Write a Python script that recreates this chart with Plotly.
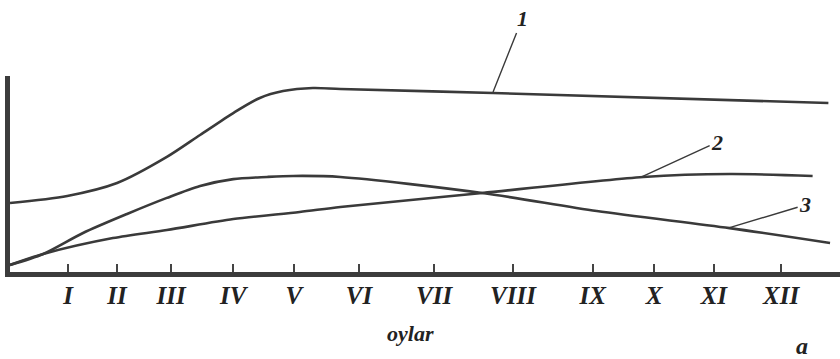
import plotly.graph_objects as go

# x: relative time scale 0-100 across the axis; y: relative value 0-100
month_labels = ["I", "II", "III", "IV", "V", "VI", "VII", "VIII", "IX", "X", "XI", "XII"]
month_pos = [7.0, 12.9, 19.4, 26.9, 34.2, 42.05, 51.1, 60.6, 70.2, 77.6, 84.8, 92.9]

c1_x = [0, 6.9, 12.9, 18.9, 22.9, 26.9, 30.1, 32.9, 36.5, 39.8, 58.2, 98.6]
c1_y = [35.2, 38.8, 45.4, 58.7, 69.9, 81.1, 88.8, 92.3, 93.9, 93.4, 91.3, 86.2]

c2_x = [0, 4.0, 12.4, 18.9, 26.9, 34.9, 39.8, 56.9, 76.3, 86.7, 96.7]
c2_y = [3.6, 9.2, 17.3, 21.4, 27.0, 30.6, 33.2, 40.3, 48.5, 50.0, 49.0]

c3_x = [0, 4.0, 8.8, 14.1, 18.9, 22.9, 26.9, 31.0, 34.1, 39.8, 56.9, 70.7, 86.7, 98.8]
c3_y = [3.6, 9.2, 19.9, 29.6, 37.8, 43.9, 47.4, 48.5, 49.0, 48.5, 40.3, 31.1, 22.4, 14.8]

curve_labels = ["1", "2", "3"]
leader_pts = [(58.2, 91.8), (76.1, 48.5), (86.5, 22.4)]
label_pts = [(61.7, 129.1), (85.2, 66.3), (95.8, 34.2)]

LINE = "#3a3a3a"
TXT = "#222222"
font_bi = dict(family="Liberation Serif", color=TXT, weight="bold", style="italic")

fig = go.Figure()
for xs, ys in [(c1_x, c1_y), (c2_x, c2_y), (c3_x, c3_y)]:
    fig.add_trace(go.Scatter(x=xs, y=ys, mode="lines",
                             line=dict(color=LINE, width=2.6, shape="spline", smoothing=0.8),
                             showlegend=False, hoverinfo="skip"))

for lab, (px, py), (lx, ly) in zip(curve_labels, leader_pts, label_pts):
    fig.add_annotation(x=px, y=py, ax=lx, ay=ly, axref="x", ayref="y", xref="x", yref="y",
                       text=lab, showarrow=True, arrowhead=0, arrowwidth=1.4, arrowcolor=LINE,
                       standoff=0, font=dict(size=22, **font_bi))

fig.add_annotation(x=0.483, y=-0.316, xref="paper", yref="paper", text="oylar",
                   xanchor="center", yanchor="middle",
                   showarrow=False, font=dict(size=22, **font_bi))
fig.add_annotation(x=0.954, y=-0.38, xref="paper", yref="paper", text="a",
                   xanchor="center", yanchor="middle",
                   showarrow=False, font=dict(size=24, **font_bi))

fig.update_layout(
    template="none",
    width=840, height=359,
    margin=dict(l=10, r=0, t=76, b=87),
    paper_bgcolor="white", plot_bgcolor="white",
    xaxis=dict(range=[0, 100], tickvals=month_pos, ticktext=month_labels, automargin=False,
               showgrid=False, zeroline=False, showline=True, linecolor="#3c3c3c", linewidth=5,
               ticks="inside", ticklen=8, tickwidth=1.5, tickcolor="#444444",
               tickfont=dict(size=25, **font_bi), ticklabelstandoff=-3),
    yaxis=dict(range=[0, 100], showticklabels=False, showgrid=False, zeroline=False, automargin=False,
               showline=True, linecolor="#3c3c3c", linewidth=5, ticks=""),
)

fig.write_html("out.html", config={"displayModeBar": False},
               post_script="document.body.style.margin='0';document.body.style.padding='0';")
